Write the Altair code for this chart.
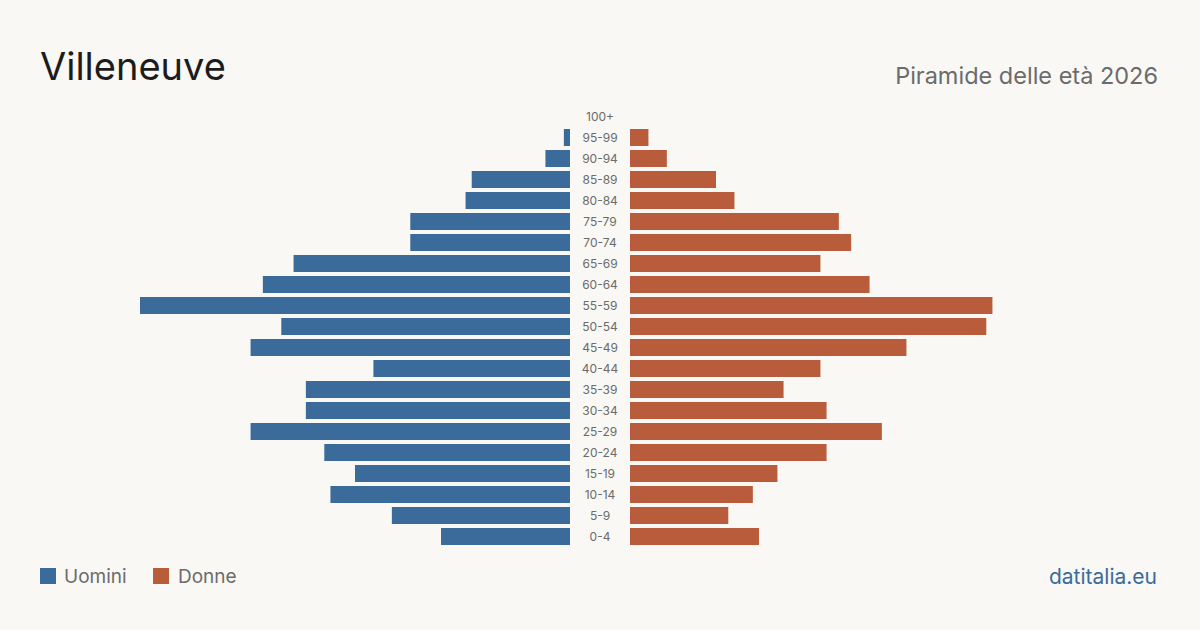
import altair as alt
import pandas as pd

# Age groups, top to bottom, and residents per group
age_groups = ["100+", "95-99", "90-94", "85-89", "80-84", "75-79", "70-74",
              "65-69", "60-64", "55-59", "50-54", "45-49", "40-44", "35-39",
              "30-34", "25-29", "20-24", "15-19", "10-14", "5-9", "0-4"]
men = [0, 1, 4, 16, 17, 26, 26, 45, 50, 70, 47, 52, 32, 43, 43, 52, 40, 35, 39, 29, 21]
women = [0, 3, 6, 14, 17, 34, 36, 31, 39, 59, 58, 45, 31, 25, 32, 41, 32, 24, 20, 16, 21]

BLUE = "#3b6b9a"
RUST = "#b95c3c"
BG = "#f9f8f4"
FONT = "Inter"

df = pd.DataFrame({"age": age_groups, "men": men, "women": women})

y_enc = alt.Y("age:N", sort=age_groups, axis=None,
              scale=alt.Scale(range=[106, 547], paddingInner=0.19, paddingOuter=0.095))

base = alt.Chart(df)

left = base.mark_bar(color=BLUE).encode(
    y=y_enc,
    x=alt.X("men:Q", axis=None, scale=alt.Scale(domain=[0, 70], range=[570, 140], nice=False)),
    x2=alt.datum(0),
)

right = base.mark_bar(color=RUST).encode(
    y=y_enc,
    x=alt.X("women:Q", axis=None, scale=alt.Scale(domain=[0, 70], range=[630, 1060], nice=False)),
    x2=alt.datum(0),
)

labels = base.mark_text(font=FONT, fontSize=12, color="#6b6b6b", align="center",
                        baseline="middle").encode(
    y=y_enc,
    x=alt.value(600),
    text="age:N",
)

title = alt.Chart(pd.DataFrame({"t": ["Villeneuve"]})).mark_text(
    font=FONT, fontSize=38, color="#1c1c1c", align="left", baseline="alphabetic"
).encode(x=alt.value(40), y=alt.value(80), text="t:N")

subtitle = alt.Chart(pd.DataFrame({"t": ["Piramide delle età 2026"]})).mark_text(
    font=FONT, fontSize=23.5, color="#6b6b6b", align="right", baseline="alphabetic"
).encode(x=alt.value(1158), y=alt.value(84), text="t:N")

legend_df = pd.DataFrame({"name": ["Uomini", "Donne"], "sx": [48, 161], "tx": [64, 178],
                          "color": [BLUE, RUST]})
legend_sq = alt.Chart(legend_df).mark_square(size=256, opacity=1, filled=True).encode(
    x=alt.X("sx:Q", scale=None), y=alt.value(576),
    color=alt.Color("color:N", scale=None),
)
legend_txt = alt.Chart(legend_df).mark_text(
    font=FONT, fontSize=19, color="#6b6b6b", align="left", baseline="middle"
).encode(x=alt.X("tx:Q", scale=None), y=alt.value(577), text="name:N")

source = alt.Chart(pd.DataFrame({"t": ["datitalia.eu"]})).mark_text(
    font=FONT, fontSize=21, color=BLUE, align="right", baseline="alphabetic"
).encode(x=alt.value(1157), y=alt.value(584), text="t:N")

chart = alt.layer(
    left, right, labels, title, subtitle, legend_sq, legend_txt, source
).resolve_scale(x="independent").properties(
    width=1200, height=630, autosize=alt.AutoSizeParams(type="none"), padding=0,
    background=BG,
).configure_view(stroke=None)

chart.save("out.html", embed_options={"renderer": "svg", "actions": False})
